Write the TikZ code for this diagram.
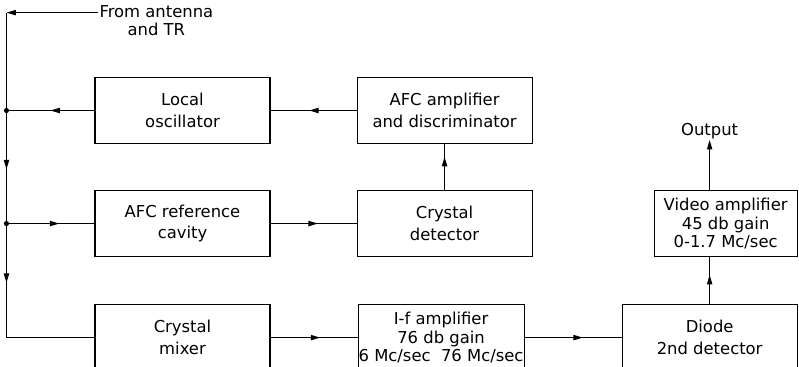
\documentclass[tikz,border=0pt]{standalone}
\usepackage{fontspec}
\setmainfont{DejaVu Sans}
\usepackage{tikz}
\usetikzlibrary{arrows.meta, positioning, calc, decorations.markings}

\begin{document}
\begin{tikzpicture}[
    node distance=1.38cm and 2.58cm,
    block/.style={draw, line width=0.9pt, minimum width=5.25cm, minimum height=1.98cm, inner sep=0.5pt, align=center, font=\fontsize{14}{18.5}\selectfont},
    block3/.style={block, font=\fontsize{14}{15.5}\selectfont},
    txt/.style={inner sep=1pt, align=center, font=\fontsize{14}{15}\selectfont},
    wire/.style={line width=0.9pt},
    midarrow/.style={wire, postaction={decorate}, decoration={markings, mark=at position #1 with {\arrow{Triangle[length=8pt, width=4.5pt]}}}},
    midarrow/.default=0.55,
    endarrow/.style={wire, -{Triangle[length=8pt, width=4.5pt]}}
]
\useasboundingbox (0,0) rectangle (23.97,-11.01);

% AFC loop (Rows 1 and 2)
\node[block] (osc) at (5.475,-3.315) {Local\\oscillator};
\node[block, right=of osc] (afcamp) {AFC amplifier\\and discriminator};
\node[block, below=of osc] (cavity) {AFC reference\\cavity};
\node[block, right=of cavity] (xdet) {Crystal\\detector};

% Receiver chain (Row 3)
\node[block, below=1.41cm of cavity] (mixer) {Crystal\\mixer};
\node[block3, minimum width=4.98cm, right=2.61cm of mixer] (ifamp) {I-f amplifier\\76 db gain\\6 Mc/sec\ \ 76 Mc/sec};
\node[block, right=2.91cm of ifamp] (diode) {Diode\\2nd detector};
\node[block3, minimum width=4.29cm, above=1.41cm of diode.north east, anchor=south east] (video) {Video amplifier\\45 db gain\\0-1.7 Mc/sec};

% Input and output labels
\node[txt, anchor=north west] (ant) at ($(osc.north west)+(0.11,2.17)$) {From antenna\\and TR};
\coordinate (antin) at ($(ant.north west)+(0,-0.24)$);
\coordinate (j1) at ($(osc.west)+(-2.64,0)$);
\coordinate (top) at (j1 |- antin);
\coordinate (j2) at (j1 |- cavity.west);
\coordinate (bot) at (j1 |- mixer.west);
\coordinate (vtop) at (diode.north |- video.north);
\node[txt, above=1.5cm of vtop] (out) {Output};

% Input bus on the left
\draw[endarrow] (antin) -- (top);
\draw[wire] (top) -- (j1);
\draw[midarrow=0.52] (j1) -- (j2);
\draw[midarrow=0.52] (j2) -- (bot);
\draw[wire] (bot) -- (mixer.west);
\draw[midarrow=0.5] (osc.west) -- (j1);
\draw[midarrow=0.6] (j2) -- (cavity.west);
\fill (j1) circle (2.2pt);
\fill (j2) circle (2.2pt);

% AFC loop
\draw[midarrow] (afcamp.west) -- (osc.east);
\draw[midarrow] (cavity.east) -- (xdet.west);
\draw[midarrow=0.72] (xdet.north) -- (afcamp.south);

% Signal path
\draw[midarrow=0.57] (mixer.east) -- (ifamp.west);
\draw[midarrow=0.6] (ifamp.east) -- (diode.west);
\draw[midarrow=0.62] (diode.north) -- (diode.north |- video.south);
\draw[endarrow] (vtop) -- (out.south);

\end{tikzpicture}
\end{document}
